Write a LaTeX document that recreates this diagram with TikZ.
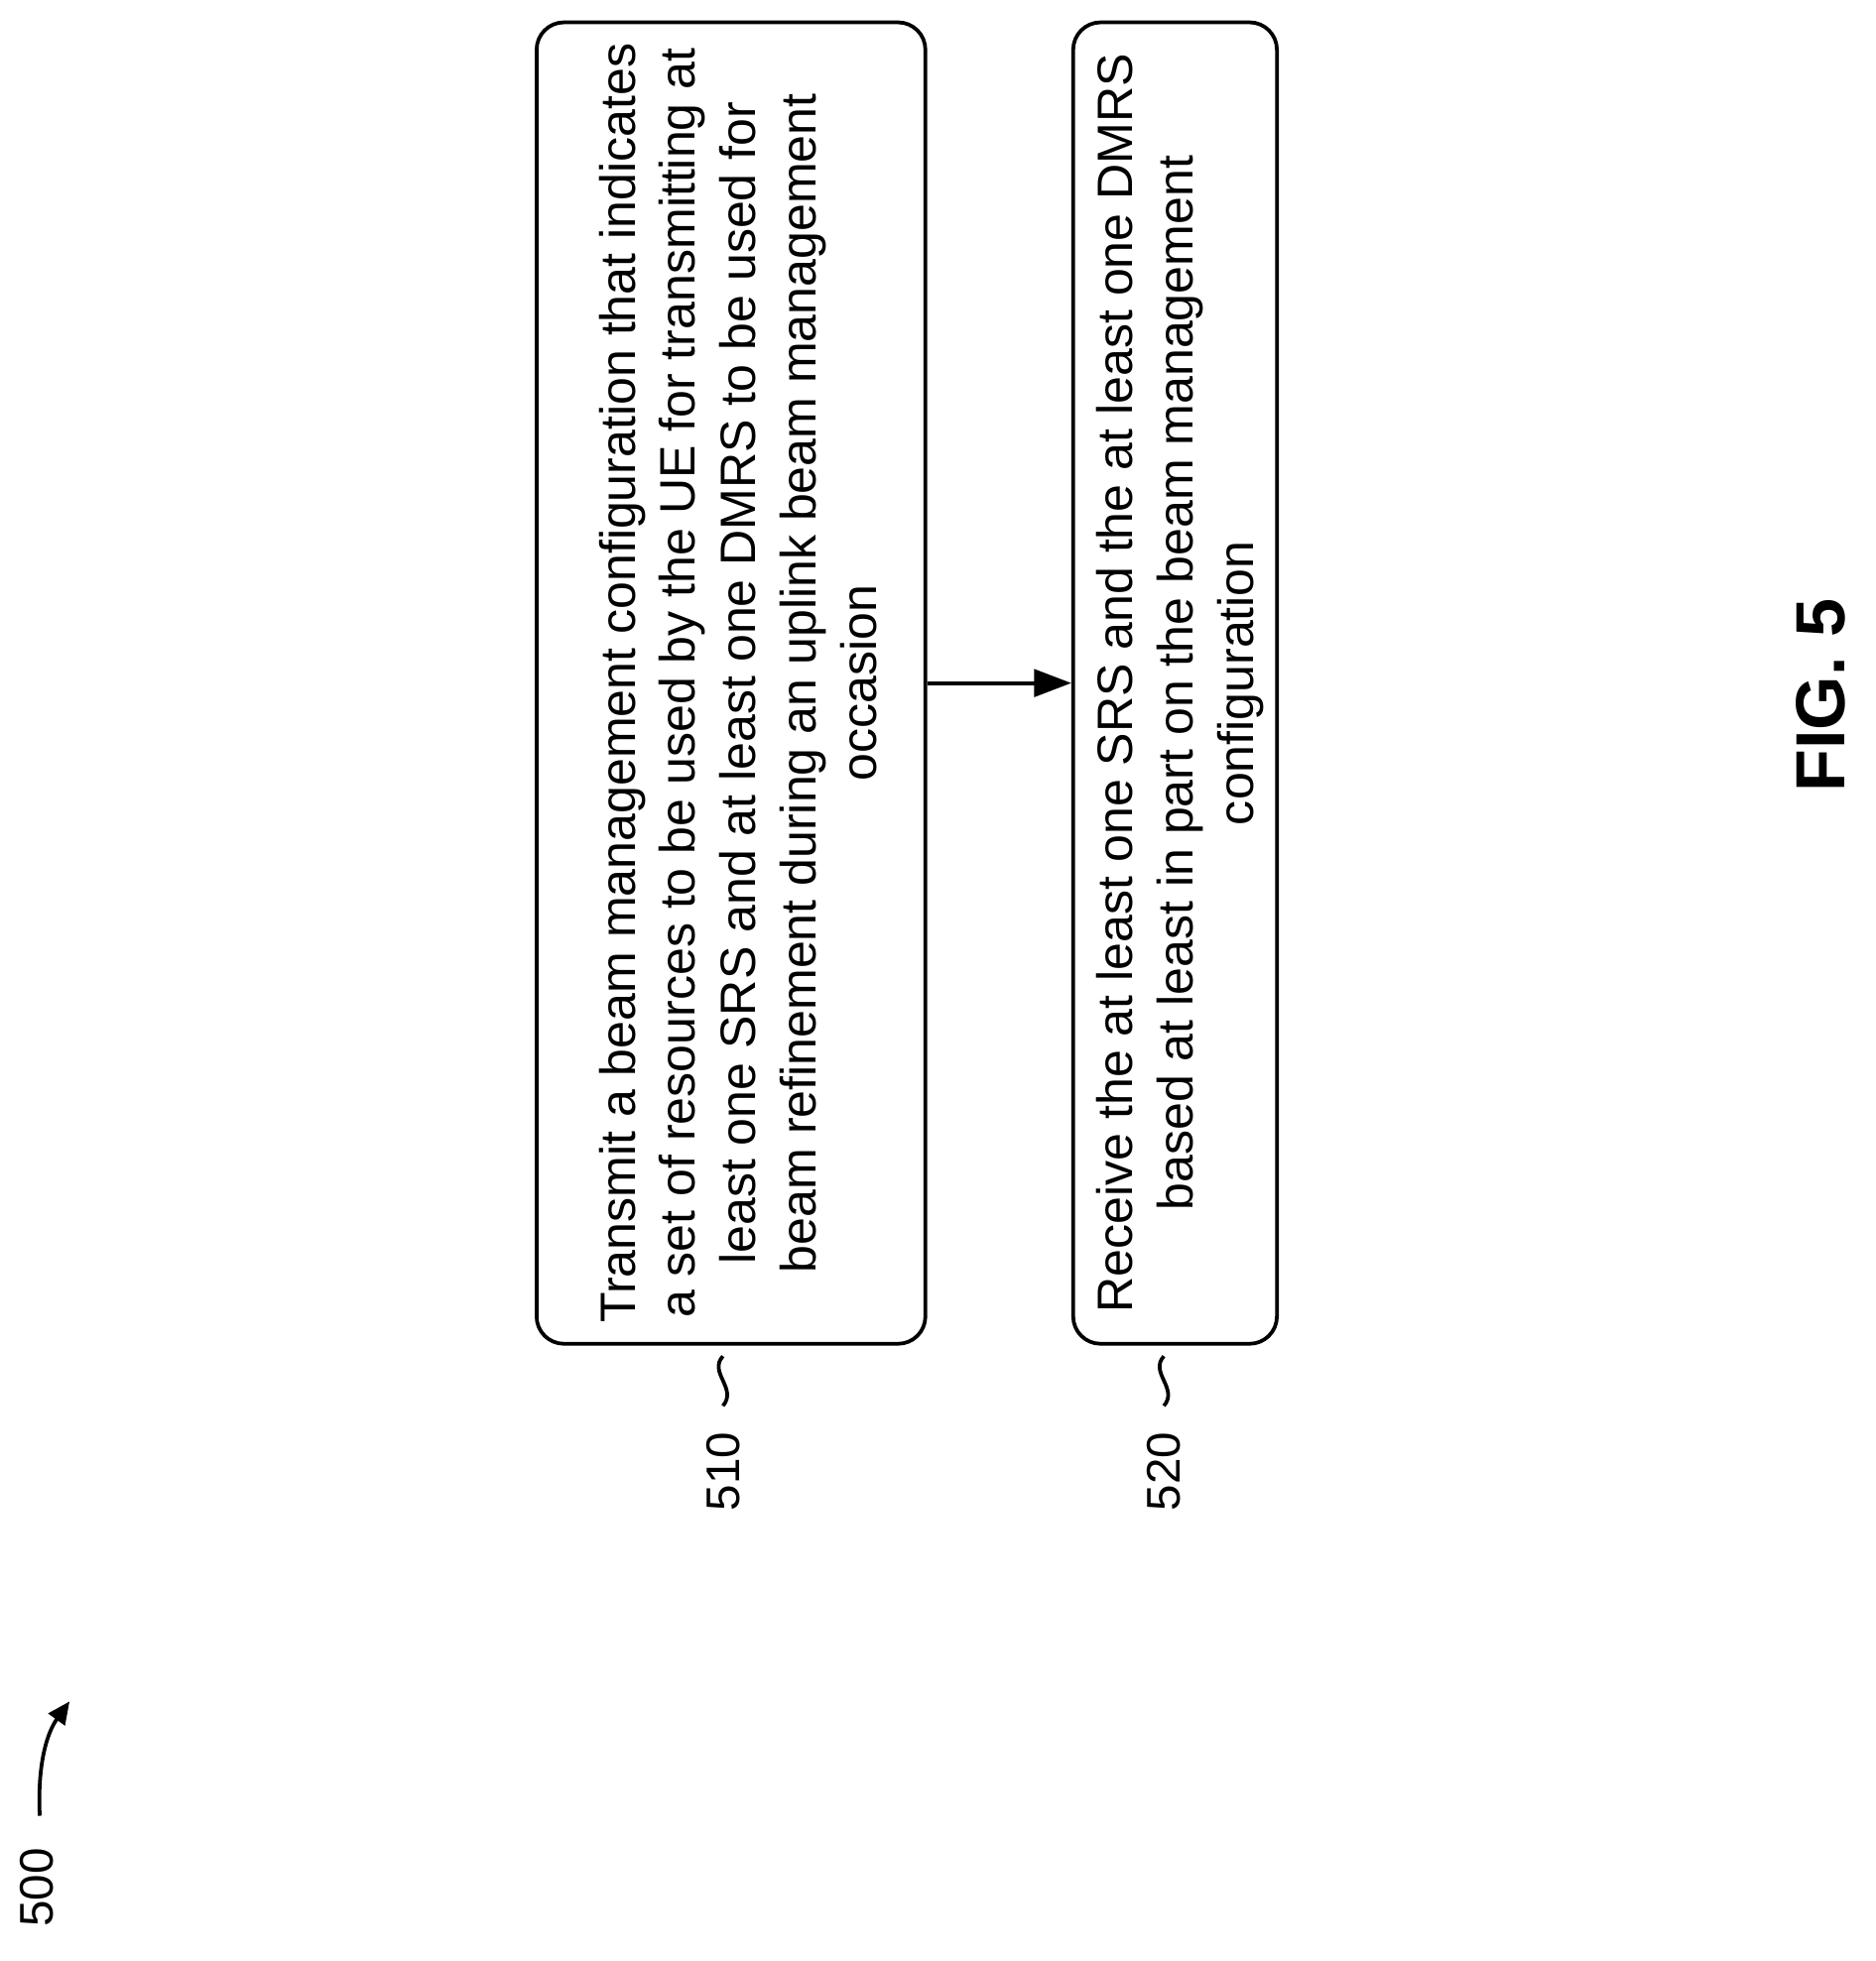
\documentclass[tikz,border=0pt]{standalone}
\usepackage{fontspec}
\setmainfont{Liberation Sans}
\usetikzlibrary{arrows.meta}
\begin{document}
\begin{tikzpicture}[x=1pt,y=-1pt,
  box/.style={draw,line width=3pt,rounded corners=22pt},
  txt/.style={rotate=90,align=center,font=\fontsize{40}{48.5}\selectfont},
  lbl/.style={rotate=90,font=\fontsize{38}{44}\selectfont}]
\useasboundingbox (0,0) rectangle (1510,1579);
\node[box,minimum width=313pt,minimum height=1064pt] (b1) at (588.5,550) {};
\node[box,minimum width=164pt,minimum height=1064pt] (b2) at (946,550) {};
\node[txt] at (594,550) {Transmit a beam management configuration that indicates\\ a set of resources to be used by the UE for transmitting at\\ least one SRS and at least one DMRS to be used for\\ beam refinement during an uplink beam management\\ occasion};
\node[txt] at (950,550) {Receive the at least one SRS and the at least one DMRS\\ based at least in part on the beam management\\ configuration};
\draw[line width=3pt,-{Triangle[length=30pt,width=22pt]}] (b1.east) -- (b2.west);
\node[rotate=90,font=\fontsize{56}{60}\selectfont\bfseries] (fig) at (1466,560) {FIG. 5};
\node[lbl] (l510) at (582,1185) {510};
\node[lbl] (l520) at (937,1185) {520};
\node[lbl] (l500) at (30,1520) {500};
\coordinate (s1a) at (582,1092); \coordinate (s1b) at (582,1132);
\draw[line width=3pt] (s1a) .. controls (570,1105) and (594,1118) .. (s1b);
\coordinate (s2a) at (937,1092); \coordinate (s2b) at (937,1132);
\draw[line width=3pt] (s2a) .. controls (925,1105) and (949,1118) .. (s2b);
\coordinate (a0) at (32,1462); \coordinate (a1) at (56,1370);
\draw[line width=3pt,-{Triangle[length=18pt,width=16pt]}] (a0) .. controls (30,1420) and (38,1395) .. (a1);
\end{tikzpicture}
\end{document}
